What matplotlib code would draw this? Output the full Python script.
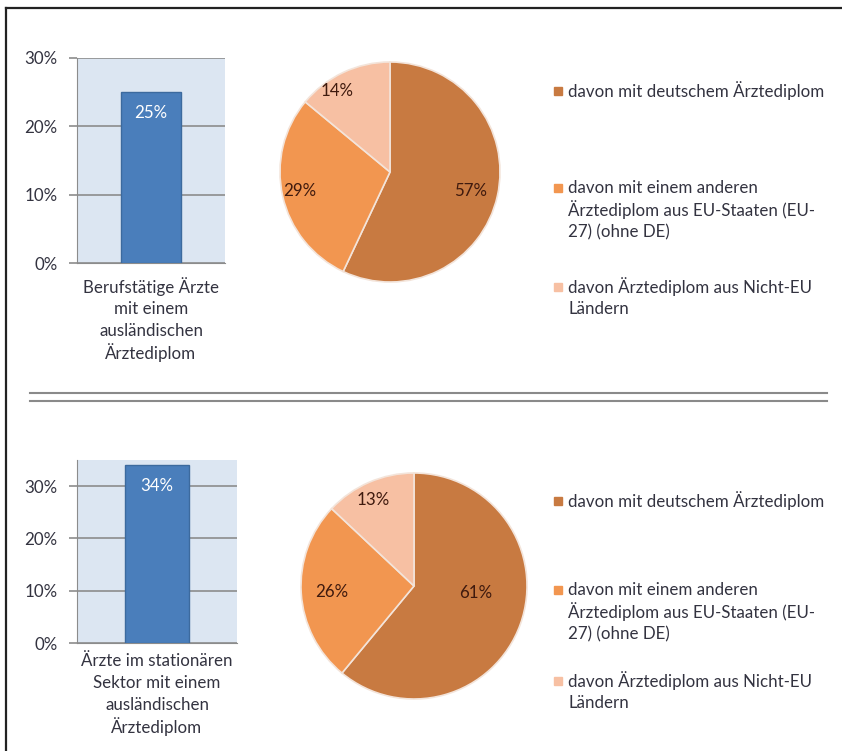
import matplotlib
matplotlib.use("Agg")
import matplotlib.pyplot as plt
from matplotlib.patches import Rectangle
from matplotlib.lines import Line2D

plt.rcParams['font.family'] = ['Lato', 'DejaVu Sans']

# --- Data ---
bar_cats = ["Berufstätige Ärzte\nmit einem\nausländischen\nÄrztediplom",
            "Ärzte im stationären\nSektor mit einem\nausländischen\nÄrztediplom"]
bar_vals = [25, 34]
bar_ylims = [30, 35]
yticks = [0, 10, 20, 30]

pie_top = [57, 29, 14]
pie_bottom = [61, 26, 13]

legend_labels = ["davon mit deutschem Ärztediplom",
                 "davon mit einem anderen\nÄrztediplom aus EU-Staaten (EU-\n27) (ohne DE)",
                 "davon Ärztediplom aus Nicht-EU\nLändern"]

# --- Styles ---
W, H = 842, 751
pie_colors = ['#c87a41', '#f29650', '#f7c0a3']
bar_color = '#4a7ebb'
text_col = '#333340'
FS = 12.2
LINE = 22  # px between text lines

fig = plt.figure(figsize=(W / 100, H / 100), dpi=100)
fig.patch.set_facecolor('white')


def px_axes(x0, y0, x1, y1):
    # pixel box (top-left origin) -> figure axes
    return fig.add_axes([x0 / W, 1 - y1 / H, (x1 - x0) / W, (y1 - y0) / H])


def lines_text(x, y, txt, ha):
    # one text per line so the spacing stays even with the umlauts
    for i, line in enumerate(txt.split("\n")):
        fig.text(x / W, 1 - (y + i * LINE) / H, line, ha=ha, va='center',
                 fontsize=FS, color=text_col)


def bar_panel(box, val, ymax, cat, cat_x, cat_y):
    ax = px_axes(*box)
    ax.set_facecolor('#dce6f2')
    ax.bar([0], [val], width=0.4, color=bar_color, edgecolor='#3c6a9e', linewidth=1, zorder=3)
    ax.set_xlim(-0.5, 0.5)
    ax.set_ylim(0, ymax)
    ax.set_yticks(yticks)
    ax.set_yticklabels([f"{t}%" for t in yticks], fontsize=FS, color=text_col)
    ax.set_xticks([])
    ax.yaxis.grid(True, color='#8c8c8c', linewidth=1.2, zorder=1)
    ax.tick_params(axis='y', length=6, color='#8c8c8c', width=1.2, pad=8)
    for s in ['top', 'right']:
        ax.spines[s].set_visible(False)
    ax.spines['left'].set_color('#8c8c8c')
    ax.spines['bottom'].set_color('#8c8c8c')
    ax.annotate(f"{val}%", (0, val), xytext=(0, -15), textcoords='offset points',
                ha='center', va='center', color='white', fontsize=FS)
    lines_text(cat_x, cat_y, cat, 'center')
    return ax


def pie_panel(cx, cy, r, vals, label_pos):
    ax = px_axes(cx - r, cy - r, cx + r, cy + r)
    wedges, texts, autotexts = ax.pie(
        vals, colors=pie_colors, startangle=90, counterclock=False,
        autopct='%d%%', pctdistance=0.8,
        wedgeprops=dict(edgecolor='#f3e4da', linewidth=1.2),
        textprops=dict(color='#3f1a0e', fontsize=FS))
    for t, p in zip(autotexts, label_pos):
        t.set_position(p)
    ax.set_xlim(-1, 1)
    ax.set_ylim(-1, 1)
    ax.set_aspect('equal')
    return ax


def legend_block(x, ys):
    for lab, y, col in zip(legend_labels, ys, pie_colors):
        fig.patches.append(Rectangle(((x - 14) / W, 1 - (y + 4) / H), 8 / W, 8 / H,
                                     transform=fig.transFigure, color=col, figure=fig))
        lines_text(x, y, lab, 'left')


# top block
bar_panel((77, 58, 225, 263), bar_vals[0], bar_ylims[0], bar_cats[0], 151, 287)
pie_panel(390, 172, 110, pie_top, [(0.73, -0.17), (-0.82, -0.17), (-0.48, 0.74)])
legend_block(568, [91, 188, 287])

# bottom block
bar_panel((77, 460, 237, 643), bar_vals[1], bar_ylims[1], bar_cats[1], 157, 661)
pie_panel(414, 586, 113, pie_bottom, [(0.55, -0.06), (-0.73, -0.05), (-0.36, 0.76)])
legend_block(568, [501, 590, 681])

# divider and frame
for yy in [393, 401]:
    fig.add_artist(Line2D([30 / W, 827 / W], [1 - yy / H, 1 - yy / H], color='#8a8a8a',
                          linewidth=1.5, transform=fig.transFigure))
fig.add_artist(Line2D([6 / W, 842 / W], [1 - 8 / H, 1 - 8 / H], color='#222222',
                      linewidth=1.6, transform=fig.transFigure))
fig.add_artist(Line2D([6 / W, 6 / W], [1 - 8 / H, 0], color='#222222',
                      linewidth=1.6, transform=fig.transFigure))

fig.savefig("out.png", dpi=100)
